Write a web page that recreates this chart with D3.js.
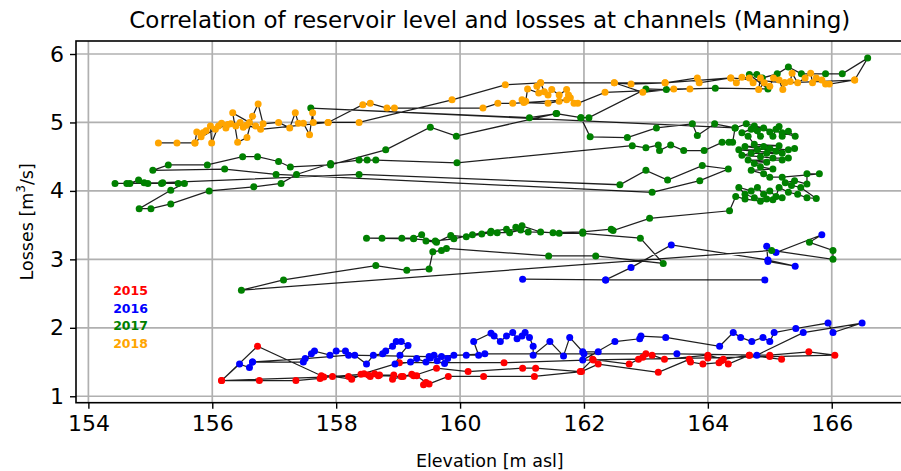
<!DOCTYPE html>
<meta charset="utf-8">
<style>
body { margin: 0; background: #fff; }
text { font-family: "DejaVu Sans", sans-serif; }
.grid line { stroke: #b0b0b0; stroke-width: 1.7px; }
.axis path { display: none; }
.axis line { stroke: #000; stroke-width: 1.4px; }
.axis text { font-size: 22px; fill: #000; }
.track { fill: none; stroke: #000; stroke-width: 1.25px; stroke-opacity: 0.88; }
</style>
<svg class="chart" width="901" height="471"></svg>
<script src="https://d3js.org/d3.v7.min.js"></script>
<script>

var xTicks = [154, 156, 158, 160, 162, 164, 166],
    yTicks = [1, 2, 3, 4, 5, 6];

var years = ["2015", "2016", "2017", "2018"],
    yearColors = ["#ff0000", "#0000ff", "#008000", "#ffa500"];

// [elevation, losses] in time order
var red2015 = [
  [165.19,1.54],[164.67,1.60],[164.33,1.47],[164.22,1.52],[164.18,1.49],[163.92,1.47],[163.72,1.50],[163.70,1.54],
  [163.20,1.35],[162.23,1.47],[161.96,1.36],[161.20,1.29],[160.38,1.29],[159.81,1.29],[159.50,1.18],[159.41,1.17],
  [159.45,1.20],[159.30,1.30],[159.22,1.32],[159.08,1.29],[158.91,1.25],[158.93,1.31],[158.70,1.31],[158.62,1.33],
  [158.52,1.31],[158.45,1.33],[158.25,1.25],[157.94,1.29],[157.74,1.26],[157.35,1.23],[156.76,1.23],[156.15,1.23],
  [156.73,1.73],[157.76,1.30],[158.20,1.29],[158.55,1.29],[158.68,1.30],[159.05,1.29],[159.25,1.30],[159.62,1.41],
  [160.13,1.36],[161.01,1.41],[161.22,1.41],[161.94,1.36],[162.14,1.54],[162.73,1.47],[162.88,1.54],[162.95,1.57],
  [163.00,1.62],[163.10,1.60],[163.30,1.54],[164.00,1.60],[164.25,1.54],[164.67,1.60],[165.00,1.60],[165.63,1.65],
  [166.05,1.60],[165.00,1.58],[164.00,1.56],[162.15,1.53],[160.71,1.49],[159.02,1.49],[158.40,1.32],[157.80,1.28],
  [156.15,1.23]
];

var blue2016 = [
  [156.44,1.47],[156.60,1.42],[156.65,1.50],[157.47,1.50],[157.60,1.62],[157.65,1.66],[157.90,1.60],[158.00,1.66],
  [158.15,1.66],[158.30,1.60],[158.49,1.47],[158.60,1.60],[158.75,1.62],[158.80,1.66],[158.91,1.73],[158.97,1.80],
  [159.05,1.80],[159.16,1.74],[159.03,1.60],[158.95,1.47],[159.20,1.50],[159.30,1.55],[159.45,1.50],[159.52,1.56],
  [159.58,1.60],[159.63,1.52],[159.70,1.58],[159.75,1.48],[159.80,1.55],[159.90,1.60],[160.10,1.60],[160.30,1.60],
  [160.22,1.80],[160.50,1.92],[160.55,1.88],[160.65,1.80],[160.75,1.88],[160.85,1.93],[160.92,1.84],[161.00,1.88],
  [161.05,1.93],[161.12,1.86],[161.18,1.73],[161.18,1.60],[161.45,1.80],[161.67,1.59],[161.77,1.86],[161.98,1.65],
  [162.23,1.65],[161.98,1.53],[162.50,1.80],[162.90,1.84],[162.92,1.88],[163.32,1.86],[164.19,1.73],[164.41,1.93],
  [164.53,1.86],[164.71,1.80],[164.89,1.86],[165.00,1.80],[165.07,1.93],[165.42,1.99],[165.94,2.07],[166.02,1.93],
  [166.49,2.07],[165.54,1.93],[164.79,1.60],[163.50,1.62],[162.00,1.62],[160.40,1.62],[159.50,1.58],[158.20,1.60],
  [157.50,1.55],[156.65,1.50]
];

var blue2016late = [
  [164.92,2.70],[162.35,2.70],[161.01,2.71],[162.35,2.70],[162.76,2.88],[163.41,3.21],[164.97,2.99],[165.41,2.90],
  [164.97,2.97],[164.95,3.19],[165.10,3.10],[165.84,3.36]
];

var green2017 = [
  [165.64,3.25],[166.02,3.13],[166.02,3.00],[165.03,3.13],[156.47,2.55],[157.15,2.70],[158.64,2.91],[159.14,2.84],
  [159.50,2.86],[159.56,3.11],[159.70,3.13],[159.78,3.16],[161.43,3.05],[162.19,3.05],[163.28,2.94],[162.91,3.31],
  [161.98,3.38],[161.60,3.38],[161.30,3.40],[161.00,3.49],[160.90,3.47],[160.98,3.43],[160.80,3.39],[160.60,3.39],
  [160.49,3.39],[160.35,3.37],[160.10,3.33],[159.85,3.35],[159.62,3.25],[159.45,3.27],[159.38,3.36],[159.25,3.31],
  [159.06,3.31],[158.74,3.31],[158.49,3.31],[159.25,3.30],[159.60,3.27],[159.90,3.30],[160.20,3.36],[160.50,3.41],
  [160.75,3.44],[161.10,3.40],[161.50,3.39],[161.98,3.40],[162.44,3.44],[162.47,3.42],[163.06,3.60],[164.35,3.71],
  [164.45,3.92],[164.60,3.88],[164.85,3.85],[165.05,3.87],[165.20,3.90],[164.95,3.88],[164.75,3.90],[164.60,3.95],
  [164.50,4.05],[164.70,4.00],[164.80,4.05],[164.90,3.95],[165.00,4.00],[165.10,3.92],[165.15,4.05],[165.30,3.98],
  [165.45,3.95],[165.60,3.90],[165.75,3.89],[165.50,4.05],[165.35,4.08],[165.25,4.12],[165.40,4.15],[165.60,4.10],
  [165.60,4.25],[165.80,4.25],[165.20,4.20],[165.00,4.20],[164.90,4.25],[164.70,4.30],[165.05,4.32],[164.85,4.35],
  [164.75,4.40],[164.95,4.42],[164.65,4.45],[165.20,4.45],[165.30,4.48],[165.05,4.48],[164.85,4.50],[164.55,4.52],
  [164.70,4.55],[164.95,4.55],[165.20,4.55],[164.50,4.60],[164.80,4.60],[165.00,4.62],[165.30,4.60],[165.40,4.62],
  [165.10,4.58],[164.60,4.65],[164.90,4.65],[165.15,4.66],[164.75,4.68],[164.65,4.80],[164.55,4.85],[164.70,4.90],
  [164.85,4.80],[164.80,4.88],[164.90,4.92],[164.75,4.95],[165.00,4.86],[165.05,4.80],[165.10,4.90],[165.15,4.94],
  [165.20,4.85],[165.20,4.80],[165.30,4.87],[165.41,4.80],[164.62,4.98],[164.44,4.92],[164.40,4.71],[164.34,4.71],
  [164.23,4.71],[163.94,4.59],[163.61,4.59],[163.40,4.67],[163.22,4.59],[163.20,4.67],[163.00,4.63],[162.78,4.66],
  [159.95,4.41],[158.64,4.45],[158.50,4.45],[158.37,4.45],[157.91,4.40],[157.36,4.24],[157.11,4.11],[156.67,4.06],
  [155.95,4.00],[155.33,3.81],[155.01,3.74],[154.82,3.74],[155.33,4.01],[155.55,4.11],[155.45,4.11],[155.18,4.11],
  [154.96,4.11],[154.90,4.12],[154.81,4.16],[154.67,4.11],[154.62,4.11],[154.43,4.11],[155.20,4.12],[158.37,4.24],
  [162.58,4.09],[163.00,4.30],[163.35,4.16],[163.91,4.37],[164.33,4.32],[163.87,4.15],[163.10,3.98],[157.03,4.24],
  [156.20,4.32],[155.04,4.30],[155.29,4.38],[155.92,4.38],[156.49,4.50],[156.73,4.50],[157.07,4.43],[157.26,4.35],
  [157.91,4.38],[158.80,4.60],[159.52,4.93],[159.94,4.80],[161.55,5.13],[161.95,5.07],[162.10,4.79],[162.70,4.78],
  [163.17,4.92],[163.75,4.98],[163.83,4.81],[164.11,4.98],[164.44,4.92],[157.59,5.21],[161.12,5.07],[161.56,5.13],
  [161.95,5.07],[162.08,5.07],[163.00,5.49],[163.33,5.48],[164.12,5.50],[164.97,5.49],[164.67,5.70],[164.79,5.70],
  [164.88,5.65],[165.12,5.71],[165.30,5.81],[165.51,5.71],[165.90,5.71],[166.17,5.71],[166.58,5.94]
];

var orange2018 = [
  [166.37,5.62],[165.96,5.56],[165.90,5.56],[165.84,5.62],[165.75,5.65],[165.69,5.58],[165.66,5.72],[165.57,5.65],
  [165.45,5.58],[165.36,5.72],[165.33,5.60],[165.24,5.58],[165.21,5.48],[165.15,5.62],[165.06,5.65],[165.00,5.53],
  [164.91,5.58],[164.82,5.48],[164.85,5.65],[164.73,5.58],[164.67,5.65],[164.55,5.66],[164.46,5.58],[164.37,5.65],
  [163.86,5.58],[163.83,5.65],[163.31,5.58],[162.76,5.56],[162.49,5.58],[162.95,5.44],[163.45,5.49],[163.71,5.49],
  [162.34,5.44],[161.90,5.28],[161.84,5.28],[161.78,5.36],[161.75,5.40],[161.72,5.48],[161.60,5.40],[161.48,5.48],
  [161.42,5.40],[161.36,5.45],[161.30,5.58],[161.24,5.53],[161.27,5.43],[161.09,5.49],[161.06,5.31],[161.00,5.33],
  [161.03,5.29],[161.42,5.28],[161.60,5.31],[161.72,5.33],[160.85,5.28],[160.61,5.28],[160.37,5.21],[158.94,5.21],
  [158.82,5.21],[158.55,5.28],[158.43,5.26],[157.87,5.00],[157.63,5.00],[157.62,5.14],[157.57,4.82],[157.47,4.99],
  [157.39,4.99],[157.34,5.14],[157.25,4.92],[157.07,5.00],[156.82,4.98],[156.74,5.27],[156.65,5.09],[156.56,4.78],
  [156.41,4.71],[156.33,5.14],[156.70,4.95],[156.60,5.00],[156.50,4.93],[156.45,5.00],[156.38,4.95],[156.30,4.98],
  [156.22,4.92],[156.15,4.99],[156.10,4.95],[155.99,4.70],[155.97,4.95],[155.90,4.88],[155.85,4.85],[155.75,4.86],
  [155.72,4.70],[155.43,4.70],[155.13,4.70],[155.72,4.70],[155.82,4.79],[156.05,4.90],[156.25,4.97],[156.55,4.96],
  [156.78,4.90],[157.87,5.00],[158.37,5.00],[159.87,5.33],[160.73,5.55],[161.30,5.58],[162.49,5.58],[163.31,5.58],
  [164.37,5.65],[165.24,5.58],[166.37,5.62]
];

// which runs are joined by the black track
var tracks = [red2015.concat(blue2016), blue2016late.concat(green2017, orange2018)];
var runs = [
  {year: "2015", pts: red2015},
  {year: "2016", pts: blue2016},
  {year: "2016", pts: blue2016late},
  {year: "2017", pts: green2017},
  {year: "2018", pts: orange2018}
];

var svg = d3.select(".chart"),
    plotL = 76, plotR = 903.6, plotT = 41, plotB = 402.7;

var x = d3.scaleLinear().domain([153.8, 167.16]).range([plotL, plotR]),
    y = d3.scaleLinear().domain([0.906, 6.19]).range([plotB, plotT]),
    color = d3.scaleOrdinal().domain(years).range(yearColors);

// grid
svg.append("g").attr("class", "grid")
  .selectAll("line").data(xTicks).enter().append("line")
    .attr("x1", x).attr("x2", x).attr("y1", plotT).attr("y2", plotB);
svg.append("g").attr("class", "grid")
  .selectAll("line").data(yTicks).enter().append("line")
    .attr("y1", y).attr("y2", y).attr("x1", plotL).attr("x2", plotR);

var plot = svg.append("g");

var line = d3.line()
    .x(function(d) { return x(d[0]); })
    .y(function(d) { return y(d[1]); });

plot.selectAll(".track").data(tracks).enter().append("path")
    .attr("class", "track")
    .attr("d", line);

runs.forEach(function(r) {
  plot.append("g").selectAll("circle").data(r.pts).enter().append("circle")
      .attr("cx", function(d) { return x(d[0]); })
      .attr("cy", function(d) { return y(d[1]); })
      .attr("r", 3.5)
      .attr("fill", color(r.year));
});

// frame
svg.append("rect")
    .attr("x", plotL).attr("y", plotT)
    .attr("width", plotR - plotL).attr("height", plotB - plotT)
    .attr("fill", "none").attr("stroke", "#000").attr("stroke-width", 1.6);

svg.append("g").attr("class", "axis")
    .attr("transform", "translate(0," + plotB + ")")
    .call(d3.axisBottom(x).tickValues(xTicks).tickSize(6).tickPadding(7).tickFormat(d3.format("d")));

svg.append("g").attr("class", "axis")
    .attr("transform", "translate(" + plotL + ",0)")
    .call(d3.axisLeft(y).tickValues(yTicks).tickSize(6).tickPadding(6).tickFormat(d3.format("d")));

// year labels
svg.append("g").selectAll("text").data(years).enter().append("text")
    .attr("x", x(154.4))
    .attr("y", function(d, i) { return 295 + i * 17.7; })
    .attr("fill", function(d) { return color(d); })
    .attr("font-size", 12.5)
    .attr("font-weight", "bold")
    .text(function(d) { return d; });

svg.append("text")
    .attr("x", (plotL + plotR) / 2).attr("y", 28)
    .attr("text-anchor", "middle").attr("font-size", 23)
    .text("Correlation of reservoir level and losses at channels (Manning)");

svg.append("text")
    .attr("x", (plotL + plotR) / 2).attr("y", 467)
    .attr("text-anchor", "middle").attr("font-size", 17.5)
    .text("Elevation [m asl]");

var yl = svg.append("text")
    .attr("transform", "translate(33," + ((plotT + plotB) / 2) + ") rotate(-90)")
    .attr("text-anchor", "middle").attr("font-size", 17.5);
yl.append("tspan").text("Losses [m");
yl.append("tspan").attr("font-size", 12).attr("dy", -8).text("3");
yl.append("tspan").attr("dy", 8).text("/s]");

</script>
